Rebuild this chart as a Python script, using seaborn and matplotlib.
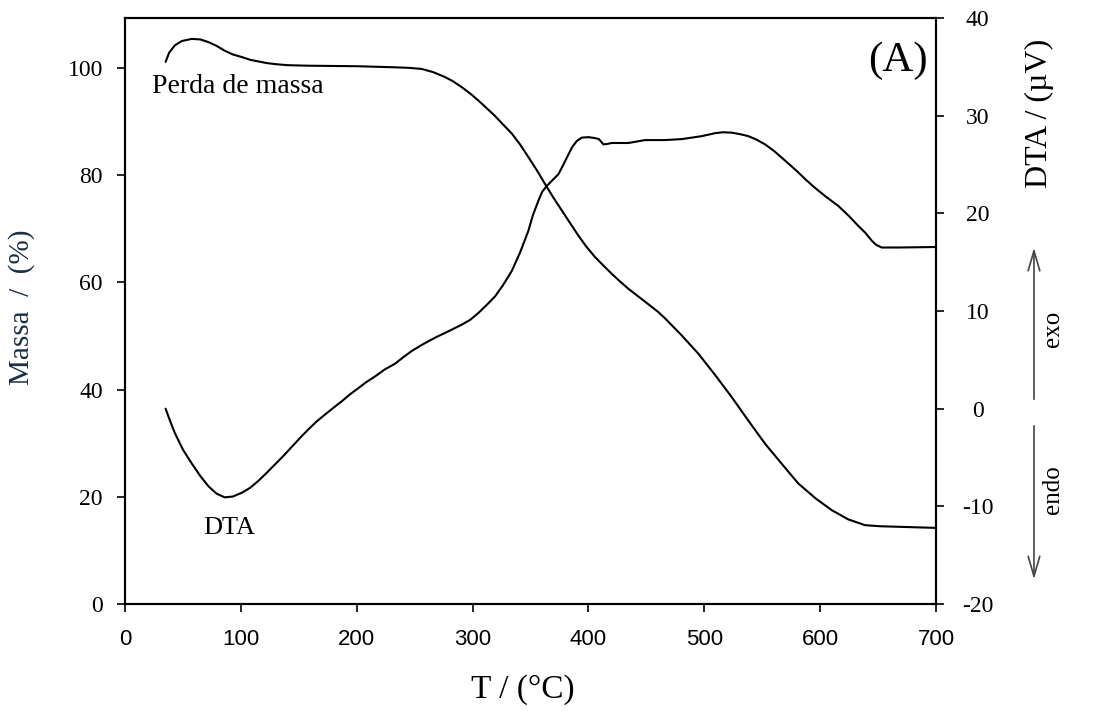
import numpy as np
import pandas as pd
import matplotlib
matplotlib.use("Agg")
import matplotlib.pyplot as plt
import seaborn as sns
from matplotlib.patches import FancyArrowPatch

# Thermogravimetric (mass loss) curve, left axis
temp_mass = [35, 38, 43, 49, 57.5, 65, 72, 79, 86, 93, 101, 108, 115, 122, 129.5, 140,
             158, 201, 233, 245, 256, 266, 276, 283, 290.6, 298, 305, 312, 319, 326,
             334, 341, 348, 356, 364, 370, 377, 384, 391, 398, 405.7, 413, 420, 427,
             434.4, 447, 460, 466, 480, 494.8, 509, 523.6, 538, 552.4, 567, 581, 596,
             610, 624, 638.7, 652, 667.5, 699]
mass = [101.1, 102.8, 104.2, 105.0, 105.4, 105.3, 104.8, 104.1, 103.2, 102.5, 102.0,
        101.5, 101.2, 100.9, 100.7, 100.5, 100.4, 100.3, 100.1, 100.0, 99.8, 99.2, 98.3,
        97.5, 96.4, 95.2, 93.9, 92.5, 91.1, 89.5, 87.7, 85.7, 83.4, 80.7, 77.8, 75.7,
        73.4, 71.1, 68.8, 66.7, 64.7, 63.1, 61.6, 60.2, 58.8, 56.7, 54.5, 53.3, 50.2,
        46.7, 42.8, 38.6, 34.2, 29.9, 26.1, 22.5, 19.7, 17.5, 15.8, 14.7, 14.5, 14.4,
        14.2]

# Differential thermal analysis curve, right axis
temp_dta = [35, 39, 43, 50, 57.5, 65, 72, 79, 86, 93, 101, 108, 115, 122, 129.5, 137,
            144, 151, 158, 165, 172.6, 180, 187, 194, 201.4, 208, 215.8, 224, 233, 240,
            247.4, 255, 261.8, 269, 276.2, 283, 290.6, 298, 305, 312, 319.4, 326, 333.8,
            341, 348.1, 352, 356.8, 360, 364, 369, 374, 378, 382.6, 386, 389.9, 394.2,
            400, 405.7, 409, 412.9, 416, 420, 434.4, 448.8, 466, 480.5, 497.7, 509, 516,
            523.6, 531, 538, 545, 552.4, 560, 566.8, 574, 581, 588, 595.6, 605, 615.7,
            625, 633, 639, 644.5, 648, 653, 667.5, 699]
dta = [0.0, -1.3, -2.5, -4.2, -5.6, -6.9, -7.95, -8.7, -9.08, -9.0, -8.6, -8.1, -7.4,
       -6.6, -5.7, -4.8, -3.9, -3.0, -2.15, -1.35, -0.6, 0.1, 0.75, 1.45, 2.1, 2.7, 3.3,
       4.0, 4.6, 5.25, 5.9, 6.45, 6.9, 7.35, 7.75, 8.15, 8.6, 9.1, 9.8, 10.6, 11.5, 12.6,
       14.1, 16.0, 18.2, 19.8, 21.3, 22.2, 22.8, 23.4, 24.0, 24.9, 26.0, 26.8, 27.4,
       27.75, 27.8, 27.7, 27.6, 27.06, 27.1, 27.2, 27.2, 27.5, 27.5, 27.6, 27.9, 28.2,
       28.3, 28.26, 28.1, 27.9, 27.55, 27.06, 26.4, 25.7, 24.95, 24.2, 23.4, 22.6, 21.7,
       20.75, 19.7, 18.7, 18.0, 17.2, 16.8, 16.5, 16.5, 16.55]

x_ticks = [0, 100, 200, 300, 400, 500, 600, 700]
mass_ticks = [0, 20, 40, 60, 80, 100]
dta_ticks = [-20, -10, 0, 10, 20, 30, 40]

sns.set_style("ticks")
plt.rcParams["font.family"] = ["Liberation Serif", "DejaVu Serif"]
plt.rcParams["text.color"] = "black"
plt.rcParams["axes.labelcolor"] = "black"
plt.rcParams["xtick.color"] = "black"
plt.rcParams["ytick.color"] = "black"

fig = plt.figure(figsize=(10.93, 7.11), dpi=100)
ax = fig.add_axes([0.1144, 0.1505, 0.742, 0.8242])
ax2 = ax.twinx()

df_mass = pd.DataFrame({"T": temp_mass, "massa": mass})
df_dta = pd.DataFrame({"T": temp_dta, "dta": dta})

sns.lineplot(data=df_mass, x="T", y="massa", ax=ax, color="black", linewidth=1.5,
             sort=False, estimator=None)
sns.lineplot(data=df_dta, x="T", y="dta", ax=ax2, color="black", linewidth=1.5,
             sort=False, estimator=None)

ax.set_xlim(0, 700)
ax.set_ylim(0, 109.3)
ax2.set_ylim(-20, 40)

ax.set_xticks(x_ticks)
ax.set_yticks(mass_ticks)
ax2.set_yticks(dta_ticks)
ax2.set_yticklabels([str(v) for v in dta_ticks])

for a in (ax, ax2):
    for s in a.spines.values():
        s.set_color("black")
        s.set_linewidth(1.5)
    a.tick_params(direction="out", length=6, width=1.2, colors="black")

ax.tick_params(axis="y", labelsize=17, pad=10)
ax.tick_params(axis="x", labelsize=16, pad=12)
ax2.tick_params(axis="y", labelsize=17, pad=24)
for lab in ax2.get_yticklabels():
    lab.set_horizontalalignment("center")
for lab in ax.get_xticklabels():
    lab.set_fontfamily("Liberation Sans")

ax.set_xlabel("T / (°C)", fontsize=24)
ax.xaxis.set_label_coords(0.49, -0.119)
ax.set_ylabel("Massa  /  (%)", fontsize=21, color="#1a2d44")
ax.yaxis.set_label_coords(-0.111, 0.507)
ax2.set_ylabel("DTA / (\u00b5V)", fontsize=23)
ax2.yaxis.set_label_coords(1.1097, 0.838)

ax.text(97.5, 96.5, "Perda de massa", fontsize=20, ha="center", va="center")
ax.text(90, 14.2, "DTA", fontsize=19, ha="center", va="center")
ax.text(0.99, 0.96, "(A)", transform=ax.transAxes, fontsize=31, ha="right", va="top")

# exo / endo direction arrows beside the right axis
arr_kw = dict(arrowstyle="->,head_length=1.2,head_width=0.35", color="#444444",
              linewidth=1.2, transform=fig.transFigure, mutation_scale=12)
fig.add_artist(FancyArrowPatch((0.946, 0.4346), (0.946, 0.6554), **arr_kw))
fig.add_artist(FancyArrowPatch((0.946, 0.405), (0.946, 0.1814), **arr_kw))
fig.text(0.963, 0.538, "exo", rotation=90, fontsize=18, ha="center", va="center")
fig.text(0.963, 0.311, "endo", rotation=90, fontsize=18, ha="center", va="center")

fig.savefig("out.png", dpi=100, facecolor="white")
